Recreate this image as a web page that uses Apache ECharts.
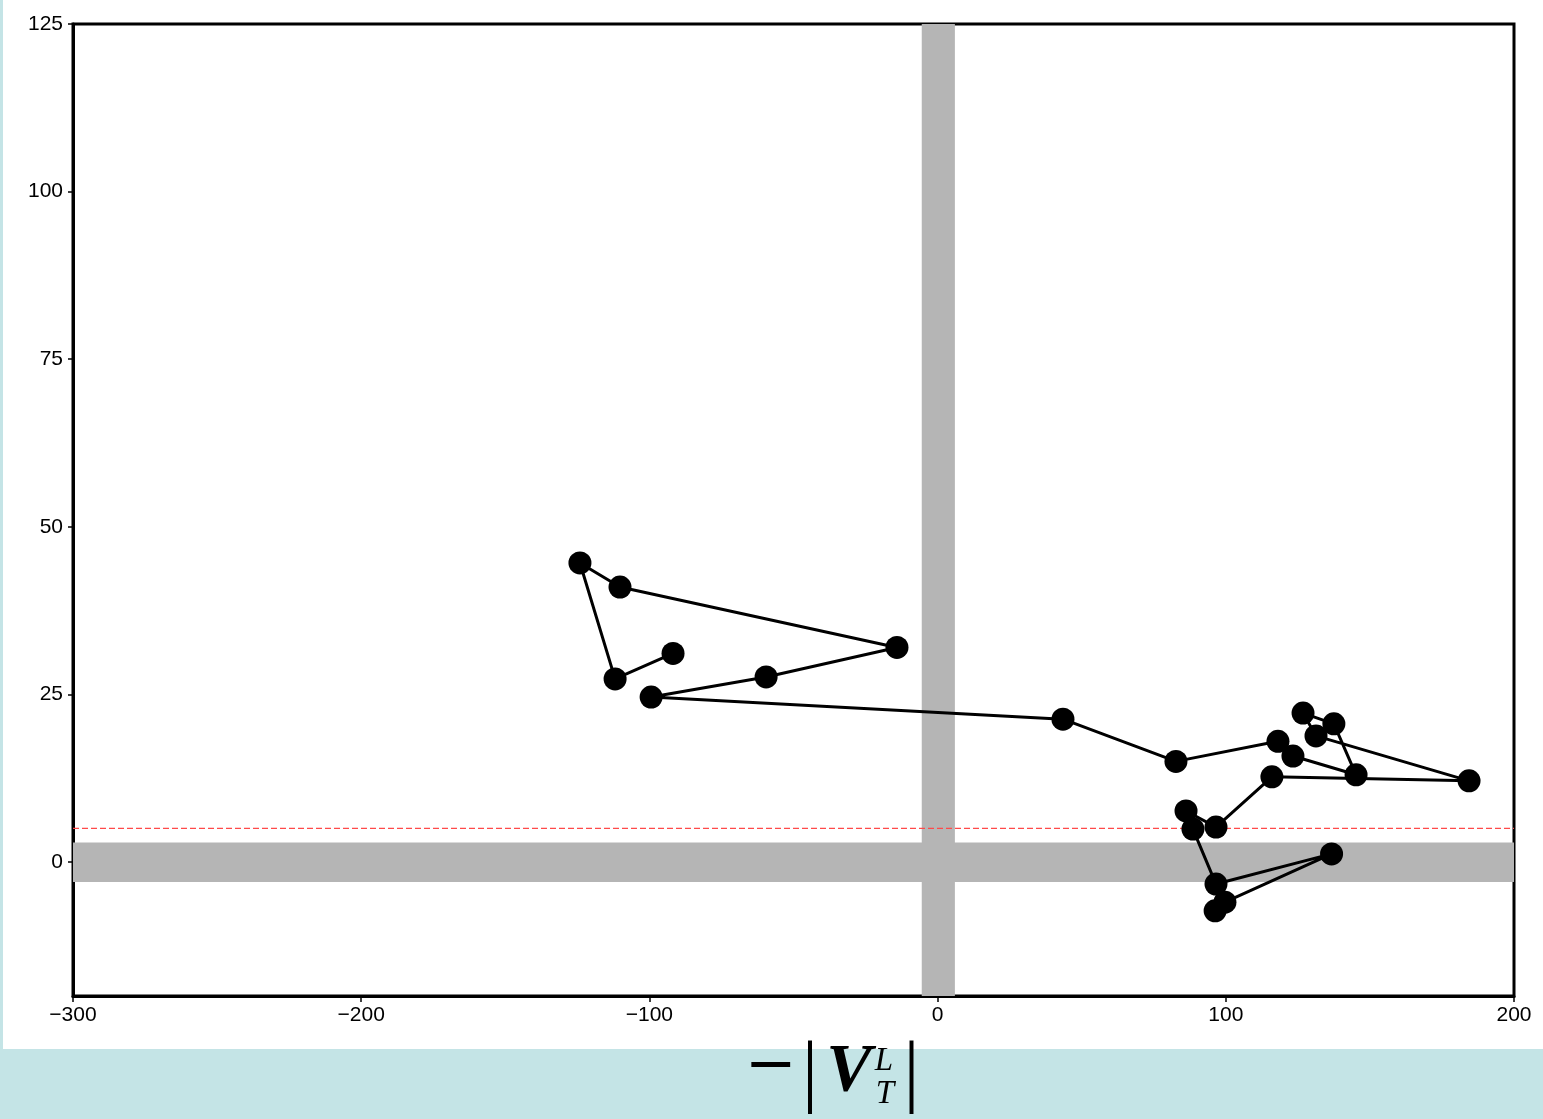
<!DOCTYPE html>
<html>
<head>
<meta charset="utf-8">
<script src="https://cdn.jsdelivr.net/npm/echarts@6/dist/echarts.min.js"></script>
<style>
  html, body { margin: 0; padding: 0; background: #c4e4e6; }
  #panel { position: absolute; left: 3px; top: 0; width: 1540px; height: 1049px; background: #ffffff; }
  #chart { position: absolute; left: 0; top: 0; width: 1543px; height: 1119px; }
</style>
</head>
<body>
<div id="panel"></div>
<div id="chart"></div>
<script>
// ---- data ----
const xValues = [-91.8, -111.9, -124.1, -110.2, -14.1, -59.5, -99.4, 43.5, 82.7, 118.1, 123.3, 145.2,
                 137.5, 126.8, 131.3, 184.4, 116.0, 96.6, 86.2, 88.6, 96.6, 136.7, 99.7, 96.3];
const yValues = [31.1, 27.3, 44.6, 41.0, 32.0, 27.6, 24.6, 21.3, 15.0, 18.0, 15.8, 13.0,
                 20.6, 22.2, 18.8, 12.1, 12.7, 5.2, 7.6, 4.9, -3.3, 1.2, -6.0, -7.3];
const xTicks = [-300, -200, -100, 0, 100, 200];
const yTicks = [0, 25, 50, 75, 100, 125];
const xRange = [-300, 200];
const yRange = [-20, 125];
const vBand = [-5.5, 6];
const hBand = [-3.0, 2.9];
const refLevel = 5;

const points = xValues.map((x, i) => [x, yValues[i]]);
const refLine = [[xRange[0], refLevel], [xRange[1], refLevel]];
const fmt = v => (v < 0 ? '\u2212' + Math.abs(v) : String(v));

const chart = echarts.init(document.getElementById('chart'), null, { renderer: 'canvas' });
const labelFont = { fontFamily: 'Liberation Sans', fontSize: 21, color: '#000' };

chart.setOption({
  backgroundColor: 'transparent',
  animation: false,
  grid: { left: 73, top: 24, right: 29, bottom: 123, show: true, borderColor: '#000', borderWidth: 3, backgroundColor: 'transparent' },
  xAxis: {
    type: 'value', min: xRange[0], max: xRange[1],
    axisLine: { show: true, onZero: false, lineStyle: { color: '#000', width: 3 } },
    axisTick: { show: true, inside: false, length: 6, lineStyle: { color: '#000', width: 1.5 }, customValues: xTicks },
    axisLabel: Object.assign({ margin: 9, formatter: fmt, customValues: xTicks }, labelFont),
    splitLine: { show: false }
  },
  yAxis: {
    type: 'value', min: yRange[0], max: yRange[1],
    axisLine: { show: true, onZero: false, lineStyle: { color: '#000', width: 3 } },
    axisTick: { show: true, inside: false, length: 5, lineStyle: { color: '#000', width: 1.5 }, customValues: yTicks },
    axisLabel: Object.assign({ margin: 10, formatter: fmt, customValues: yTicks }, labelFont),
    splitLine: { show: false }
  },
  series: [
    {
      type: 'line', data: [], z: 1, silent: true,
      markArea: {
        silent: true,
        itemStyle: { color: '#b5b5b5', opacity: 1 },
        data: [
          [{ xAxis: vBand[0] }, { xAxis: vBand[1] }],
          [{ yAxis: hBand[0] }, { yAxis: hBand[1] }]
        ]
      }
    },
    {
      type: 'line', data: refLine, z: 2, silent: true, symbol: 'none',
      lineStyle: { color: '#ff4a4a', width: 1.2, type: [6, 3] }
    },
    {
      type: 'line', data: points, z: 5,
      symbol: 'circle', symbolSize: 23,
      itemStyle: { color: '#000' },
      lineStyle: { color: '#000', width: 3 }
    }
  ],
  graphic: [
    { type: 'text', x: 771, y: 1068, style: { text: '\u2212', font: '62px "DejaVu Serif"', fill: '#000', textAlign: 'center', textVerticalAlign: 'middle' } },
    { type: 'text', x: 810, y: 1076, style: { text: '|', font: '80px "Liberation Serif"', fill: '#000', textAlign: 'center', textVerticalAlign: 'middle' } },
    { type: 'text', x: 849, y: 1072, style: { text: 'V', font: 'italic bold 68px "Liberation Serif"', fill: '#000', textAlign: 'center', textVerticalAlign: 'middle' } },
    { type: 'text', x: 884, y: 1061, style: { text: 'L', font: 'italic 33px "Liberation Serif"', fill: '#000', textAlign: 'center', textVerticalAlign: 'middle' } },
    { type: 'text', x: 885, y: 1094, style: { text: 'T', font: 'italic 33px "Liberation Serif"', fill: '#000', textAlign: 'center', textVerticalAlign: 'middle' } },
    { type: 'text', x: 911.5, y: 1076, style: { text: '|', font: '80px "Liberation Serif"', fill: '#000', textAlign: 'center', textVerticalAlign: 'middle' } }
  ]
});
</script>
</body>
</html>
